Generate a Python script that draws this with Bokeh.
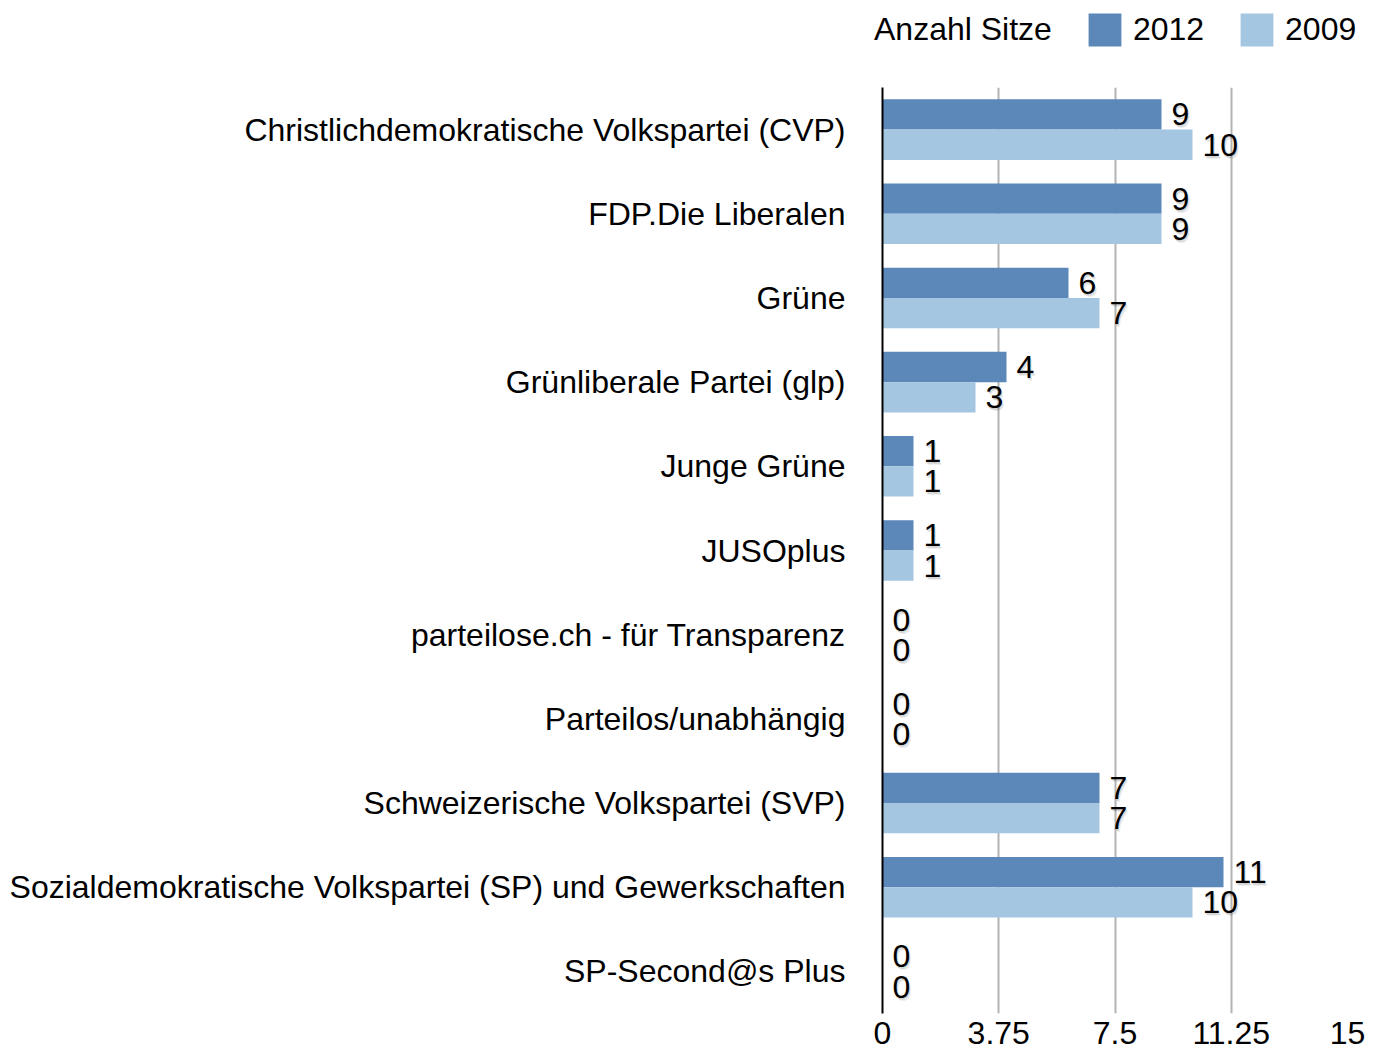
from bokeh.plotting import figure
from bokeh.models import (ColumnDataSource, FactorRange, Range1d, FixedTicker,
                          NumeralTickFormatter, Legend, LegendItem)
from bokeh.core.properties import value
from bokeh.transform import dodge
from bokeh.layouts import column
from bokeh.embed import file_html
from bokeh.resources import INLINE

# ---- data -------------------------------------------------------------
categories = [
    "Christlichdemokratische Volkspartei (CVP)",
    "FDP.Die Liberalen",
    "Grüne",
    "Grünliberale Partei (glp)",
    "Junge Grüne",
    "JUSOplus",
    "parteilose.ch - für Transparenz",
    "Parteilos/unabhängig",
    "Schweizerische Volkspartei (SVP)",
    "Sozialdemokratische Volkspartei (SP) und Gewerkschaften",
    "SP-Second@s Plus",
]
seats_2012 = [9, 9, 6, 4, 1, 1, 0, 0, 7, 11, 0]
seats_2009 = [10, 9, 7, 3, 1, 1, 0, 0, 7, 10, 0]
x_ticks = [0, 3.75, 7.5, 11.25, 15]
legend_title = "Anzahl Sitze"
series_names = ["2012", "2009"]

# ---- style ------------------------------------------------------------
FONT = "Liberation Sans"
FS = "32px"
C2012 = "#5b87b9"
C2009 = "#a5c6e1"
LEFT, FRAME_W, RIGHT = 882, 465, 21
TOP, FRAME_H, BOTTOM = 87, 926, 44
TOTAL_W = LEFT + FRAME_W + RIGHT

source = ColumnDataSource(dict(
    cat=categories,
    s2012=seats_2012,
    s2009=seats_2009,
    l2012=[str(v) for v in seats_2012],
    l2009=[str(v) for v in seats_2009],
))

# ---- main chart -------------------------------------------------------
p = figure(
    y_range=FactorRange(factors=list(reversed(categories))),
    x_range=Range1d(x_ticks[0], x_ticks[-1]),
    frame_width=FRAME_W, frame_height=FRAME_H,
    min_border_left=LEFT, min_border_right=RIGHT,
    min_border_top=0, min_border_bottom=BOTTOM,
    output_backend="svg", toolbar_location=None,
)
p.outline_line_color = None
p.background_fill_color = "white"
p.border_fill_color = "white"

OFF = 0.18
H = 0.36
r12 = p.hbar(y=dodge("cat", OFF, range=p.y_range), right="s2012", left=0,
             height=H, source=source, fill_color=C2012, line_color=None)
r09 = p.hbar(y=dodge("cat", -OFF, range=p.y_range), right="s2009", left=0,
             height=H, source=source, fill_color=C2009, line_color=None)

# value labels with a soft shadow
for col, lab, off in (("s2012", "l2012", OFF), ("s2009", "l2009", -OFF)):
    for dx, dy, a in ((1, 2, 0.10), (2, 3, 0.08), (0, 1, 0.08)):
        p.text(x=col, y=dodge("cat", off, range=p.y_range), text=lab, source=source,
               x_offset=10 + dx, y_offset=dy, text_baseline="middle",
               text_align="left", text_font=value(FONT), text_font_size=value(FS),
               text_color="black", text_alpha=a)
    p.text(x=col, y=dodge("cat", off, range=p.y_range), text=lab, source=source,
           x_offset=10, text_baseline="middle", text_align="left",
           text_font=value(FONT), text_font_size=value(FS), text_color="black")

# axes
p.xaxis.ticker = FixedTicker(ticks=x_ticks)
p.xaxis.formatter = NumeralTickFormatter(format="0.[00]")
p.xaxis.axis_line_color = None
p.xaxis.major_tick_line_color = None
p.xaxis.minor_tick_line_color = None
p.xaxis.major_tick_out = 0
p.xaxis.major_label_standoff = 8
p.xaxis.major_label_text_font = FONT
p.xaxis.major_label_text_font_size = FS
p.xaxis.major_label_text_color = "black"

p.yaxis.axis_line_color = "black"
p.yaxis.axis_line_width = 2
p.yaxis.major_tick_line_color = None
p.yaxis.minor_tick_line_color = None
p.yaxis.major_tick_out = 0
p.yaxis.major_label_standoff = 37
p.yaxis.major_label_text_font = FONT
p.yaxis.major_label_text_font_size = FS
p.yaxis.major_label_text_color = "black"

p.xgrid.ticker = FixedTicker(ticks=x_ticks[1:])
p.xgrid.grid_line_color = "#b3b3b3"
p.xgrid.grid_line_width = 2
p.ygrid.grid_line_color = None

# ---- legend strip above the chart --------------------------------------
lg = figure(width=TOTAL_W, height=TOP, x_range=(0, 1), y_range=(0, 1),
            min_border=0,
            x_axis_location=None, y_axis_location=None,
            output_backend="svg", toolbar_location=None)
lg.outline_line_color = None
lg.grid.visible = False
has_frame_align = "frame_align" in lg.properties()
if has_frame_align:
    lg.frame_align = False
    p.frame_align = False
# swatch renderers: one off-range bar each, only used to draw legend glyphs
d0 = lg.hbar(y=[-5], left=[-6], right=[-5], height=0.1, fill_alpha=0, line_alpha=0)
d1 = lg.hbar(y=[-5], left=[-6], right=[-5], height=0.1, fill_color=C2012, line_color=None)
d2 = lg.hbar(y=[-5], left=[-6], right=[-5], height=0.1, fill_color=C2009, line_color=None)
legend = Legend(
    items=[LegendItem(label=legend_title, renderers=[d0]),
           LegendItem(label=series_names[0], renderers=[d1]),
           LegendItem(label=series_names[1], renderers=[d2])],
    orientation="horizontal",
    location=(825, 37),
    glyph_width=41, glyph_height=41, label_height=41,
    label_standoff=8, spacing=32, padding=0, margin=0,
    border_line_color=None, background_fill_alpha=0,
    label_text_font=FONT, label_text_font_size=FS, label_text_color="black",
)
lg.add_layout(legend, "center")

if has_frame_align:
    html = file_html(column(lg, p, spacing=0), INLINE)
else:
    html = file_html([lg, p], INLINE)
open("out.html", "w").write(html)
